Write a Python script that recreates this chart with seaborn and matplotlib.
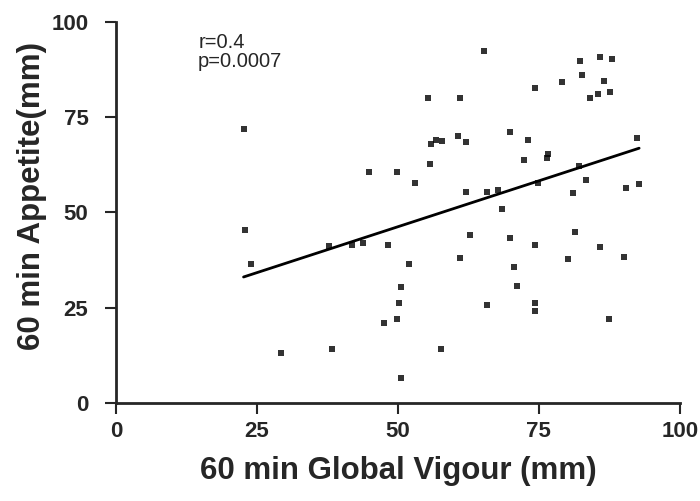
import matplotlib
matplotlib.use("Agg")
import matplotlib.pyplot as plt
import seaborn as sns
import pandas as pd

vigour = [22.9, 24.0, 37.8, 41.8, 43.8, 48.2, 51.9, 50.6, 50.2, 49.9, 47.5, 29.3, 38.3, 57.6, 50.5,
          55.3, 22.6, 56.8, 57.9, 55.8, 55.7, 44.9, 49.9, 53.0,
          65.2, 61.1, 74.4, 79.1, 82.3, 85.9, 87.9, 82.6, 86.5, 84.0, 85.5, 87.6, 60.7, 62.1, 69.9,
          73.1, 72.3, 76.6, 76.4, 92.5, 82.2, 83.3, 74.9, 81.1, 90.4, 92.8, 62.1, 65.8, 67.8, 68.5,
          62.8, 69.8, 81.5,
          74.4, 85.8, 61.1, 70.6, 80.1, 90.1, 71.2, 65.8, 74.3, 74.3, 87.5]
appetite = [45.4, 36.4, 41.3, 41.5, 42.1, 41.5, 36.4, 30.4, 26.3, 22.0, 21.0, 13.1, 14.3, 14.2, 6.5,
            80.0, 71.8, 69.0, 68.8, 67.9, 62.8, 60.7, 60.7, 57.6,
            92.3, 80.0, 82.6, 84.1, 89.7, 90.8, 90.3, 86.1, 84.4, 79.9, 81.1, 81.5, 70.1, 68.5, 71.1,
            69.1, 63.8, 65.3, 64.2, 69.5, 62.2, 58.6, 57.6, 55.0, 56.5, 57.5, 55.4, 55.4, 56.0, 50.8,
            44.0, 43.3, 45.0,
            41.5, 40.9, 38.0, 35.7, 37.8, 38.4, 30.8, 25.7, 26.3, 24.3, 22.0]
ticks = [0, 25, 50, 75, 100]

df = pd.DataFrame({"vigour": vigour, "appetite": appetite})

sns.set_style("ticks")
plt.rcParams['font.family'] = ['Liberation Sans', 'DejaVu Sans']

fig = plt.figure(figsize=(7, 5.01), dpi=100)
ax = fig.add_axes([0.166, 0.195, 0.805, 0.762])

sns.regplot(data=df, x="vigour", y="appetite", ax=ax, ci=None, color="black",
            marker="s", scatter_kws={"s": 20, "linewidths": 0},
            line_kws={"linewidth": 2})

ax.set_xlim(0, 100)
ax.set_ylim(0, 100)
ax.set_xticks(ticks)
ax.set_yticks(ticks)
ax.set_xticklabels([str(t) for t in ticks], fontsize=16, fontweight="bold")
ax.set_yticklabels([str(t) for t in ticks], fontsize=16, fontweight="bold")
ax.tick_params(axis="both", length=8, width=1.5, direction="out")
ax.tick_params(axis="y", pad=12)
ax.tick_params(axis="x", pad=5)
for s in ["top", "right"]:
    ax.spines[s].set_visible(False)
for s in ["left", "bottom"]:
    ax.spines[s].set_linewidth(2)
ax.set_xlabel("60 min Global Vigour (mm)", fontsize=22.5, fontweight="bold", labelpad=10)
ax.set_ylabel("60 min Appetite(mm)", fontsize=22.5, fontweight="bold")
ax.yaxis.set_label_coords(-0.122, 0.543)

ax.text(18.8, 93.2, "r=0.4", fontsize=14.5, ha="center", va="baseline")
ax.text(22.0, 88.2, "p=0.0007", fontsize=14.5, ha="center", va="baseline")

fig.savefig("out.png", dpi=100)
